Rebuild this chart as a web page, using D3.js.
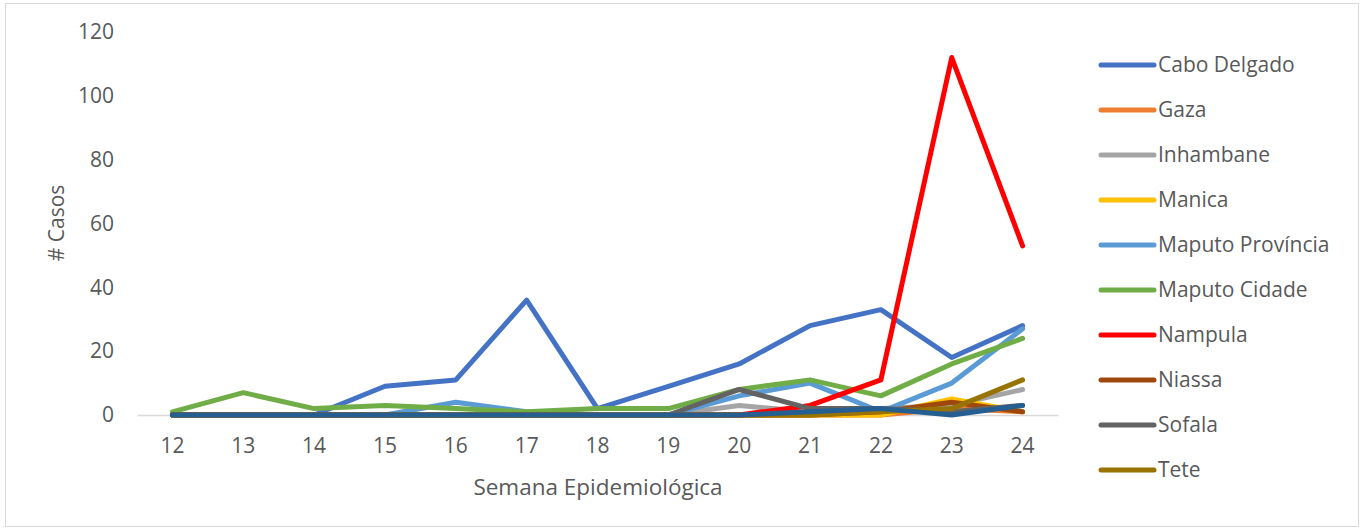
<!DOCTYPE html>
<html>
  <head>
    <meta charset="utf-8">
    <script src="https://d3js.org/d3.v7.min.js"></script>
    <style>
    body { margin: 0; background: #fff; }
    text { font-family: 'Open Sans', sans-serif; fill: #595959; }
    </style>
  </head>
  <body>
    <script>

      // data
      var weeks = ["12", "13", "14", "15", "16", "17", "18", "19", "20", "21", "22", "23", "24"];
      var yTicks = [0, 20, 40, 60, 80, 100, 120];
      var names = ["Cabo Delgado", "Gaza", "Inhambane", "Manica", "Maputo Província",
                   "Maputo Cidade", "Nampula", "Niassa", "Sofala", "Tete", "Zambézia"];
      var colors = ["#4472C4", "#ED7D31", "#A5A5A5", "#FFC000", "#5B9BD5",
                    "#70AD47", "#FF0000", "#9E480E", "#636363", "#997300", "#255E91"];
      var caboDelgado     = [0, 0, 0, 9, 11, 36, 2, 9, 16, 28, 33, 18, 28];
      var gaza            = [0, 0, 0, 0, 0, 0, 0, 0, 0, 0, 0, 2, 1];
      var inhambane       = [0, 0, 0, 0, 0, 0, 0, 0, 3, 1, 2, 3, 8];
      var manica          = [0, 0, 0, 0, 0, 0, 0, 0, 0, 0, 0, 5, 1];
      var maputoProvincia = [0, 0, 0, 0, 4, 1, 0, 0, 6, 10, 1, 10, 27];
      var maputoCidade    = [1, 7, 2, 3, 2, 1, 2, 2, 8, 11, 6, 16, 24];
      var nampula         = [0, 0, 0, 0, 0, 0, 0, 0, 0, 3, 11, 112, 53];
      var niassa          = [0, 0, 0, 0, 0, 0, 0, 0, 0, 0, 1, 4, 1];
      var sofala          = [0, 0, 0, 0, 0, 0, 0, 0, 8, 2, 2, 1, 3];
      var tete            = [0, 0, 0, 0, 0, 0, 0, 0, 0, 0, 1, 2, 11];
      var zambezia        = [0, 0, 0, 0, 0, 0, 0, 0, 0, 1, 2, 0, 3];
      var seriesValues = [caboDelgado, gaza, inhambane, manica, maputoProvincia,
                          maputoCidade, nampula, niassa, sofala, tete, zambezia];
      var legendCount = 10; // legend is cut off after Tete

      // setup
      var w = 1364, h = 531;
      var margin = { top: 32, left: 137, right: 306, bottom: 116 };
      var plotwidth = w - margin.left - margin.right;
      var plotheight = h - margin.top - margin.bottom;

      var svg = d3.select("body").append("svg")
          .attr("width", w)
          .attr("height", h);

      // outer chart border
      svg.append("rect")
          .attr("x", 5.5).attr("y", 3.5)
          .attr("width", w - 11).attr("height", h - 8)
          .attr("fill", "none")
          .attr("stroke", "#d9d9d9");

      var plotarea = svg.append("g")
          .attr("transform", "translate(" + margin.left + "," + margin.top + ")");

      var xScale = d3.scaleBand().domain(weeks).range([0, plotwidth]);
      var yScale = d3.scaleLinear().domain([0, 120]).range([plotheight, 0]);

      // x axis
      var xAxis = plotarea.append("g")
          .attr("transform", "translate(0," + plotheight + ")")
          .call(d3.axisBottom(xScale).tickSize(0).tickPadding(23));
      xAxis.select(".domain").attr("stroke", "#d9d9d9").attr("stroke-width", 1.5);
      xAxis.selectAll("text").attr("font-size", 21).attr("font-family", "'Open Sans', sans-serif").attr("fill", "#595959");

      // y axis
      var yAxis = plotarea.append("g")
          .call(d3.axisLeft(yScale).tickValues(yTicks).tickSize(0).tickPadding(23));
      yAxis.select(".domain").remove();
      yAxis.selectAll("text").attr("font-size", 21).attr("font-family", "'Open Sans', sans-serif").attr("fill", "#595959");

      // axis titles
      svg.append("text")
          .attr("x", 598)
          .attr("y", 495)
          .attr("text-anchor", "middle")
          .attr("font-size", 22.5)
          .text("Semana Epidemiológica");
      svg.append("text")
          .attr("transform", "translate(64,223) rotate(-90)")
          .attr("text-anchor", "middle")
          .attr("font-size", 21)
          .text("# Casos");

      // lines
      var line = d3.line()
          .x(function(d, i) { return xScale(weeks[i]) + xScale.bandwidth() / 2; })
          .y(function(d) { return yScale(d); });

      plotarea.selectAll(".series")
          .data(seriesValues)
          .enter().append("path")
          .attr("class", "series")
          .attr("d", line)
          .attr("fill", "none")
          .attr("stroke", function(d, i) { return colors[i]; })
          .attr("stroke-width", 5)
          .attr("stroke-linejoin", "round")
          .attr("stroke-linecap", "round");

      // legend
      var legend = svg.append("g")
          .attr("transform", "translate(1101,65)");
      var items = legend.selectAll(".item")
          .data(names.slice(0, legendCount))
          .enter().append("g")
          .attr("transform", function(d, i) { return "translate(0," + (i * 45) + ")"; });
      items.append("line")
          .attr("x1", 0).attr("x2", 53)
          .attr("stroke", function(d, i) { return colors[i]; })
          .attr("stroke-width", 5)
          .attr("stroke-linecap", "round");
      items.append("text")
          .attr("x", 57)
          .attr("dy", "0.35em")
          .attr("font-size", 21)
          .text(function(d) { return d; });

    </script>
  </body>
</html>
